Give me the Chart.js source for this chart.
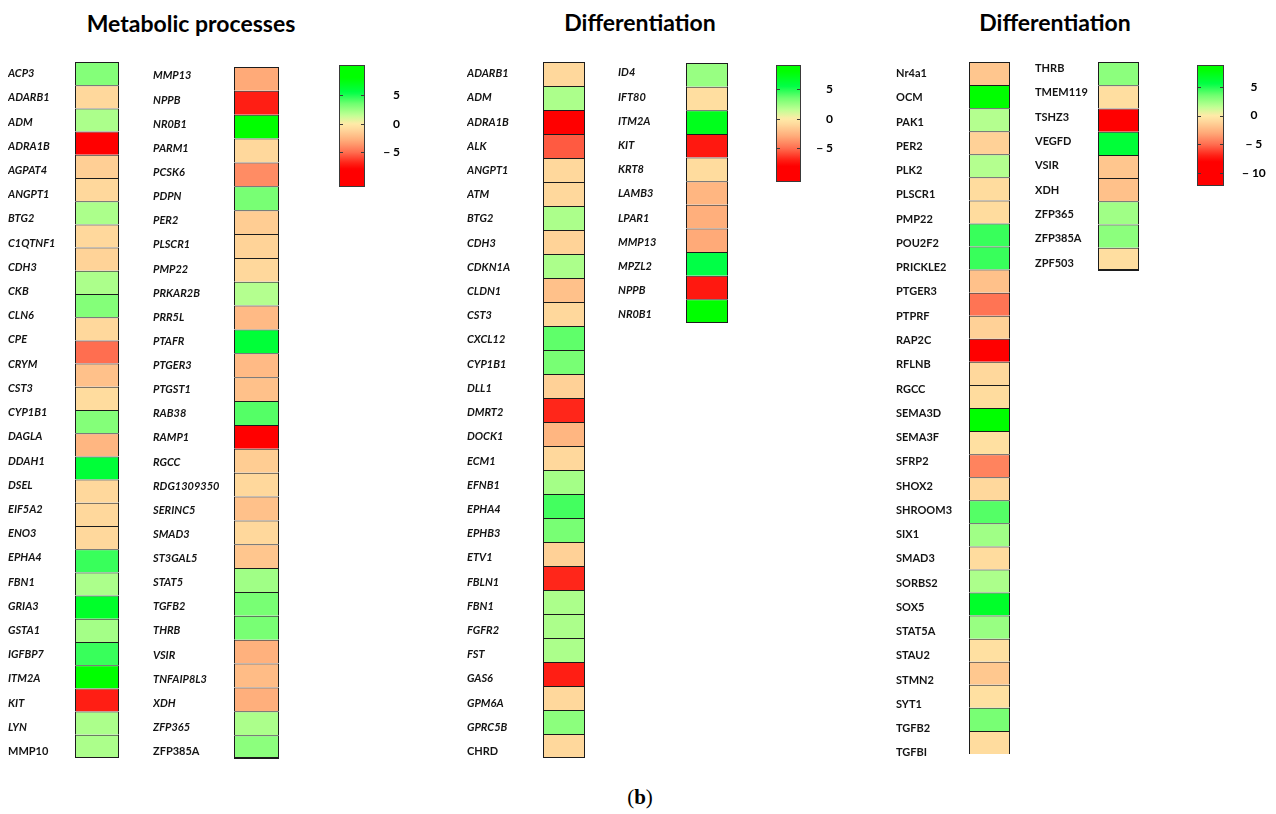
<!DOCTYPE html>
<html lang="en">
<head>
<meta charset="utf-8">
<title>Differentially expressed genes – heat maps</title>
<script src="https://cdn.jsdelivr.net/npm/chart.js@4.4.1/dist/chart.umd.min.js"></script>
<style>
  html, body { margin: 0; padding: 0; background: #fff; }
  body { position: relative; width: 1276px; height: 814px; overflow: hidden; }
  canvas { position: absolute; }
  .heading {
    position: absolute; font-family: Lato, sans-serif; font-weight: 700; font-size: 23px;
    line-height: 26px; color: #000; white-space: nowrap; transform: translateX(-50%);
  }
  .panel-tag {
    position: absolute; font-family: 'Liberation Serif', serif; font-size: 21px;
    line-height: 24px; color: #000; white-space: nowrap; transform: translateX(-50%);
  }
</style>
</head>
<body>
<div class="heading" style="left:191px; top:10px">Metabolic processes</div>
<div class="heading" style="left:640px; top:9px">Differentiation</div>
<div class="heading" style="left:1055px; top:9px">Differentiation</div>
<div class="panel-tag" style="left:640px; top:785px">(<b>b</b>)</div>

<script>
// ---- Gene lists and fold-change values (log2) ----
const metabolicGenesA = ['ACP3','ADARB1','ADM','ADRA1B','AGPAT4','ANGPT1','BTG2','C1QTNF1','CDH3','CKB',
  'CLN6','CPE','CRYM','CST3','CYP1B1','DAGLA','DDAH1','DSEL','EIF5A2','ENO3','EPHA4','FBN1','GRIA3',
  'GSTA1','IGFBP7','ITM2A','KIT','LYN','MMP10'];
const metabolicValuesA = [3, -1, 2, -8, -1.4, -1, 2, -1, -1.2, 2, 3, -1, -5, -2, -0.8, 3, -2.5, 6, -1,
  -1, -1, 4.5, 2, 6.5, 2.2, 4.5, 8, -7, 2, 2];

const metabolicGenesB = ['MMP13','NPPB','NR0B1','PARM1','PCSK6','PDPN','PER2','PLSCR1','PMP22','PRKAR2B',
  'PRR5L','PTAFR','PTGER3','PTGST1','RAB38','RAMP1','RGCC','RDG1309350','SERINC5','SMAD3','ST3GAL5',
  'STAT5','TGFB2','THRB','VSIR','TNFAIP8L3','XDH','ZFP365','ZFP385A'];
const metabolicValuesB = [-3, -7, 8, -1, -4, 3.3, -1.5, -1.2, -1, 1.8, -2.3, 6, -2.3, -2, 4, -8, -1.5,
  -1, -2, -1, -1.8, 2.3, 3.3, 3.3, -2.7, -2.2, -2.8, 2, 2.8];

const diffGenesA = ['ADARB1','ADM','ADRA1B','ALK','ANGPT1','ATM','BTG2','CDH3','CDKN1A','CLDN1','CST3',
  'CXCL12','CYP1B1','DLL1','DMRT2','DOCK1','ECM1','EFNB1','EPHA4','EPHB3','ETV1','FBLN1','FBN1','FGFR2',
  'FST','GAS6','GPM6A','GPRC5B','CHRD'];
const diffValuesA = [-1, 2, -8, -5.5, -1, -1, 2, -1.2, 2, -2, -1, 3.8, 3.3, -1.3, -6.8, -2.5, -1, 2.2,
  4.3, 3.3, -1.3, -6.8, 2, 2, 2, -7, -1, 2.8, -1];

const diffGenesB = ['ID4','IFT80','ITM2A','KIT','KRT8','LAMB3','LPAR1','MMP13','MPZL2','NPPB','NR0B1'];
const diffValuesB = [2.5, -0.7, 7, -7.2, -0.8, -2.5, -2.8, -3, 5.5, -7.2, 8];

const diffGenesC = ['Nr4a1','OCM','PAK1','PER2','PLK2','PLSCR1','PMP22','POU2F2','PRICKLE2','PTGER3',
  'PTPRF','RAP2C','RFLNB','RGCC','SEMA3D','SEMA3F','SFRP2','SHOX2','SHROOM3','SIX1','SMAD3','SORBS2',
  'SOX5','STAT5A','STAU2','STMN2','SYT1','TGFB2','TGFBI'];
const diffValuesC = [-1.8, 8, 1.8, -1.3, 1.8, -0.8, -0.8, 4.5, 4.5, -2, -4.8, -1.3, -8, -1, -0.8, 8,
  -0.6, -4.3, -1, 4, 2.3, -0.8, 2, 6.5, 2.5, -0.6, -1.7, -0.6, 3.3, -0.8];

const diffGenesD = ['THRB','TMEM119','TSHZ3','VEGFD','VSIR','XDH','ZFP365','ZFP385A','ZPF503'];
const diffValuesD = [2.8, -0.7, -8.5, 6, -1.8, -2, 2.3, 2.8, -0.7];

const legendTicksShort = [5, 0, -5];
const legendTicksLong = [5, 0, -5, -10];

// labels set upright instead of italic
const uprightGenes = new Set(['MMP10', 'ZFP385A', 'CHRD']);

// ---- Colour scale: red (down) – pale yellow – green (up) ----
const heatStops = [
  [8, [0, 255, 0]],
  [5.5, [0, 255, 70]],
  [3.5, [112, 255, 112]],
  [1.5, [192, 255, 148]],
  [0, [255, 235, 168]],
  [-1, [255, 216, 156]],
  [-3, [255, 170, 120]],
  [-5, [255, 110, 80]],
  [-7, [255, 30, 20]],
  [-8, [255, 0, 0]]
];
function heatColour(v) {
  const rgb = (c) => `rgb(${c.map(Math.round).join(',')})`;
  if (v >= heatStops[0][0]) return rgb(heatStops[0][1]);
  for (let i = 1; i < heatStops.length; i++) {
    const [v1, c1] = heatStops[i - 1];
    const [v2, c2] = heatStops[i];
    if (v >= v2) {
      const t = (v1 - v) / (v1 - v2);
      return rgb(c1.map((c, k) => c + (c2[k] - c) * t));
    }
  }
  return rgb(heatStops[heatStops.length - 1][1]);
}

Chart.defaults.font.family = 'Lato';

function mountCanvas(left, top, width, height) {
  const c = document.createElement('canvas');
  c.width = width; c.height = height;
  Object.assign(c.style, { left: left + 'px', top: top + 'px', width: width + 'px', height: height + 'px' });
  document.body.appendChild(c);
  return c;
}

// room above/below each column so the end labels are not clipped
const COLUMN_MARGIN = 8;

// One heat-map column: unit-length horizontal bars, one per row, coloured by value.
function heatColumn(genes, values, g) {
  const m = COLUMN_MARGIN;
  const canvas = mountCanvas(g.labelX, g.top - m, g.cellRight - g.labelX, g.bottom - g.top + 2 * m);
  const axisW = g.cellLeft - g.labelX;
  const last = values.length - 1;
  return new Chart(canvas, {
    type: 'bar',
    data: {
      labels: values.map((_, i) => 'row ' + (i + 1)),
      datasets: [{
        data: values.map(() => [0, 1]),
        backgroundColor: values.map(heatColour),
        borderColor: '#1c1c1c',
        borderWidth: (ctx) => ({
          top: 1, left: 1, right: 1,
          bottom: ctx.dataIndex === last ? g.lastEdge : 0
        }),
        borderSkipped: false,
        inflateAmount: 0,
        barPercentage: 1,
        categoryPercentage: 1
      }]
    },
    options: {
      indexAxis: 'y',
      responsive: false,
      animation: false,
      events: [],
      layout: { padding: { top: m, bottom: m, left: 0, right: 0 } },
      plugins: { legend: { display: false }, tooltip: { enabled: false } },
      scales: {
        x: { display: false, min: 0, max: 1 },
        y: { display: false },
        // gene names: evenly spread over the column height
        genes: {
          type: 'linear', position: 'left', reverse: true, offset: false,
          min: g.labelMin, max: g.labelMax,
          grid: { display: false, drawTicks: false, offset: false },
          border: { display: false },
          afterBuildTicks: (s) => { s.ticks = genes.map((_, i) => ({ value: i + 0.5 })); },
          afterFit: (s) => { s.width = axisW; s.paddingTop = 0; s.paddingBottom = 0; },
          ticks: {
            autoSkip: false, crossAlign: 'far', padding: 0, color: '#141414',
            font: (ctx) => ({
              family: 'Lato', size: 11, weight: 'bold',
              style: (g.italic && !uprightGenes.has(genes[ctx.index])) ? 'italic' : 'normal'
            }),
            callback: (v, i) => genes[i]
          }
        }
      }
    }
  });
}

// Small inner tick marks on both edges of a colour bar
const legendTickMarks = {
  id: 'legendTickMarks',
  afterDatasetsDraw(chart) {
    const { ctx, chartArea: a } = chart;
    const s = chart.scales.y;
    ctx.save();
    ctx.strokeStyle = '#3a3a3a';
    ctx.lineWidth = 1;
    s.ticks.forEach((t) => {
      const y = Math.round(s.getPixelForValue(t.value)) + 0.5;
      ctx.beginPath();
      ctx.moveTo(a.left, y); ctx.lineTo(a.left + 4, y);
      ctx.moveTo(a.right - 4, y); ctx.lineTo(a.right, y);
      ctx.stroke();
    });
    ctx.restore();
  }
};

function legendGradient(chart) {
  const area = chart.chartArea;
  if (!area) return '#ddd';
  const s = chart.scales.y;
  const grad = chart.ctx.createLinearGradient(0, area.bottom, 0, area.top);
  const n = 60;
  for (let k = 0; k <= n; k++) {
    grad.addColorStop(k / n, heatColour(s.min + (s.max - s.min) * k / n));
  }
  return grad;
}

// Colour bar legend: one floating bar spanning the whole value axis
function legendBar(tickVals, g) {
  const canvas = mountCanvas(g.barLeft, g.top, g.canvasRight - g.barLeft, g.bottom - g.top);
  const axisW = g.canvasRight - g.barRight;
  return new Chart(canvas, {
    type: 'bar',
    data: {
      labels: ['log2 FC'],
      datasets: [{
        data: [[g.min, g.max]],
        backgroundColor: (ctx) => legendGradient(ctx.chart),
        borderColor: '#3a3a3a',
        borderWidth: 1,
        borderSkipped: false,
        inflateAmount: 0,
        barPercentage: 1,
        categoryPercentage: 1
      }]
    },
    options: {
      responsive: false,
      animation: false,
      events: [],
      layout: { padding: 0 },
      plugins: { legend: { display: false }, tooltip: { enabled: false } },
      scales: {
        x: { display: false },
        y: {
          position: 'right', min: g.min, max: g.max,
          grid: { display: false, drawTicks: false },
          border: { display: false },
          afterBuildTicks: (s) => { s.ticks = tickVals.map((v) => ({ value: v })); },
          afterFit: (s) => { s.width = axisW; s.paddingTop = 0; s.paddingBottom = 0; },
          ticks: {
            autoSkip: false, crossAlign: g.align, padding: g.pad, color: '#000',
            font: { family: 'Lato', size: 12, weight: 'bold' },
            callback: (v) => (v < 0 ? '\u2212 ' + Math.abs(v) : String(v))
          }
        }
      }
    },
    plugins: [legendTickMarks]
  });
}

// ---- Panel: metabolic processes ----
heatColumn(metabolicGenesA, metabolicValuesA,
  { labelX: 8, cellLeft: 75, cellRight: 119, top: 62, bottom: 758, labelMin: 0.02, labelMax: 28.77, italic: true, lastEdge: 1 });
heatColumn(metabolicGenesB, metabolicValuesB,
  { labelX: 153, cellLeft: 234, cellRight: 279, top: 67, bottom: 759, labelMin: 0.13, labelMax: 28.81, italic: true, lastEdge: 2 });
legendBar(legendTicksShort,
  { barLeft: 339, barRight: 365, canvasRight: 400, top: 65, bottom: 187, min: -11.1, max: 10.3, align: 'far', pad: 0 });

// ---- Panel: differentiation (first) ----
heatColumn(diffGenesA, diffValuesA,
  { labelX: 467, cellLeft: 543, cellRight: 585, top: 62, bottom: 758, labelMin: 0.02, labelMax: 28.77, italic: true, lastEdge: 1 });
heatColumn(diffGenesB, diffValuesB,
  { labelX: 618, cellLeft: 686, cellRight: 728, top: 63, bottom: 323, labelMin: 0.09, labelMax: 10.84, italic: true, lastEdge: 1 });
legendBar(legendTicksShort,
  { barLeft: 776, barRight: 801, canvasRight: 833, top: 65, bottom: 182, min: -10.7, max: 9.07, align: 'far', pad: 0 });

// ---- Panel: differentiation (second) ----
heatColumn(diffGenesC, diffValuesC,
  { labelX: 896, cellLeft: 969, cellRight: 1010, top: 62, bottom: 754, labelMin: 0.02, labelMax: 28.55, italic: false, lastEdge: 0 });
heatColumn(diffGenesD, diffValuesD,
  { labelX: 1035, cellLeft: 1098, cellRight: 1139, top: 62, bottom: 271, labelMin: 0.23, labelMax: 8.82, italic: false, lastEdge: 2 });
legendBar(legendTicksLong,
  { barLeft: 1197, barRight: 1224, canvasRight: 1272, top: 65, bottom: 186, min: -12.2, max: 8.75, align: 'center', pad: 18 });
</script>
</body>
</html>
